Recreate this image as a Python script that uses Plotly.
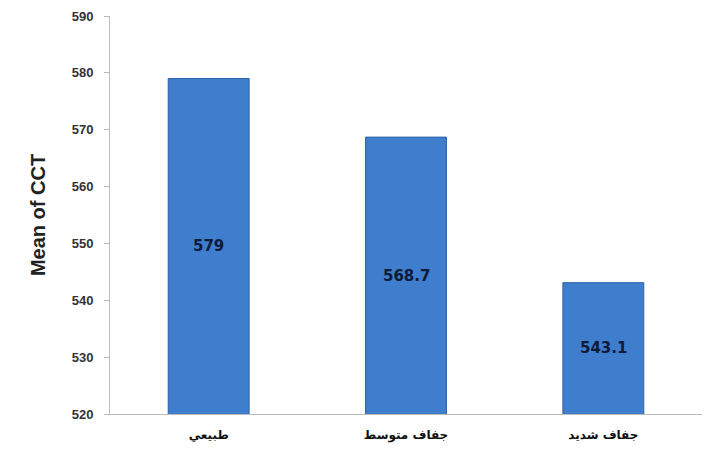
import plotly.graph_objects as go

categories = ["طبيعي", "جفاف متوسط", "جفاف شديد"]
values = [579, 568.7, 543.1]
value_labels = ["579", "568.7", "543.1"]
y_ticks = [520, 530, 540, 550, 560, 570, 580, 590]
y_min, y_max = 520, 590

fig = go.Figure()
fig.add_trace(go.Bar(
    x=categories,
    y=values,
    marker=dict(color="#3f7dcd", line=dict(color="#2f61a8", width=1)),
    width=0.41,
    hoverinfo="skip",
))

for c, v, t in zip(categories, values, value_labels):
    fig.add_annotation(
        x=c, y=(y_min + v) / 2, text=t, showarrow=False,
        font=dict(family="DejaVu Sans, Liberation Sans, Arial", size=15, color="#0d1b3a", weight="bold"),
    )

fig.update_layout(
    width=720, height=442,
    margin=dict(l=102, r=26, t=8, b=36),
    paper_bgcolor="white",
    plot_bgcolor="white",
    showlegend=False,
    font=dict(family="Liberation Sans, DejaVu Sans, Arial", color="#222"),
)
fig.update_yaxes(
    range=[y_min, y_max],
    tickvals=y_ticks,
    ticks="outside", ticklen=5, tickcolor="#bbbbbb",
    showline=True, linecolor="#bbbbbb", linewidth=1,
    showgrid=False, zeroline=False,
    ticklabelstandoff=8,
    ticklabeloverflow="allow",
    tickfont=dict(size=13, color="#333", weight="bold"),
    title=dict(text="Mean of CCT", font=dict(size=20, color="#222", weight="bold"), standoff=20),
    automargin=False,
)
fig.update_xaxes(
    showline=True, linecolor="#bbbbbb", linewidth=1,
    ticks="", showgrid=False,
    ticklabelstandoff=10,
    tickfont=dict(family="DejaVu Sans, Liberation Sans", size=12, color="#111", weight="bold"),
    automargin=False,
)
fig.write_html("out.html")
